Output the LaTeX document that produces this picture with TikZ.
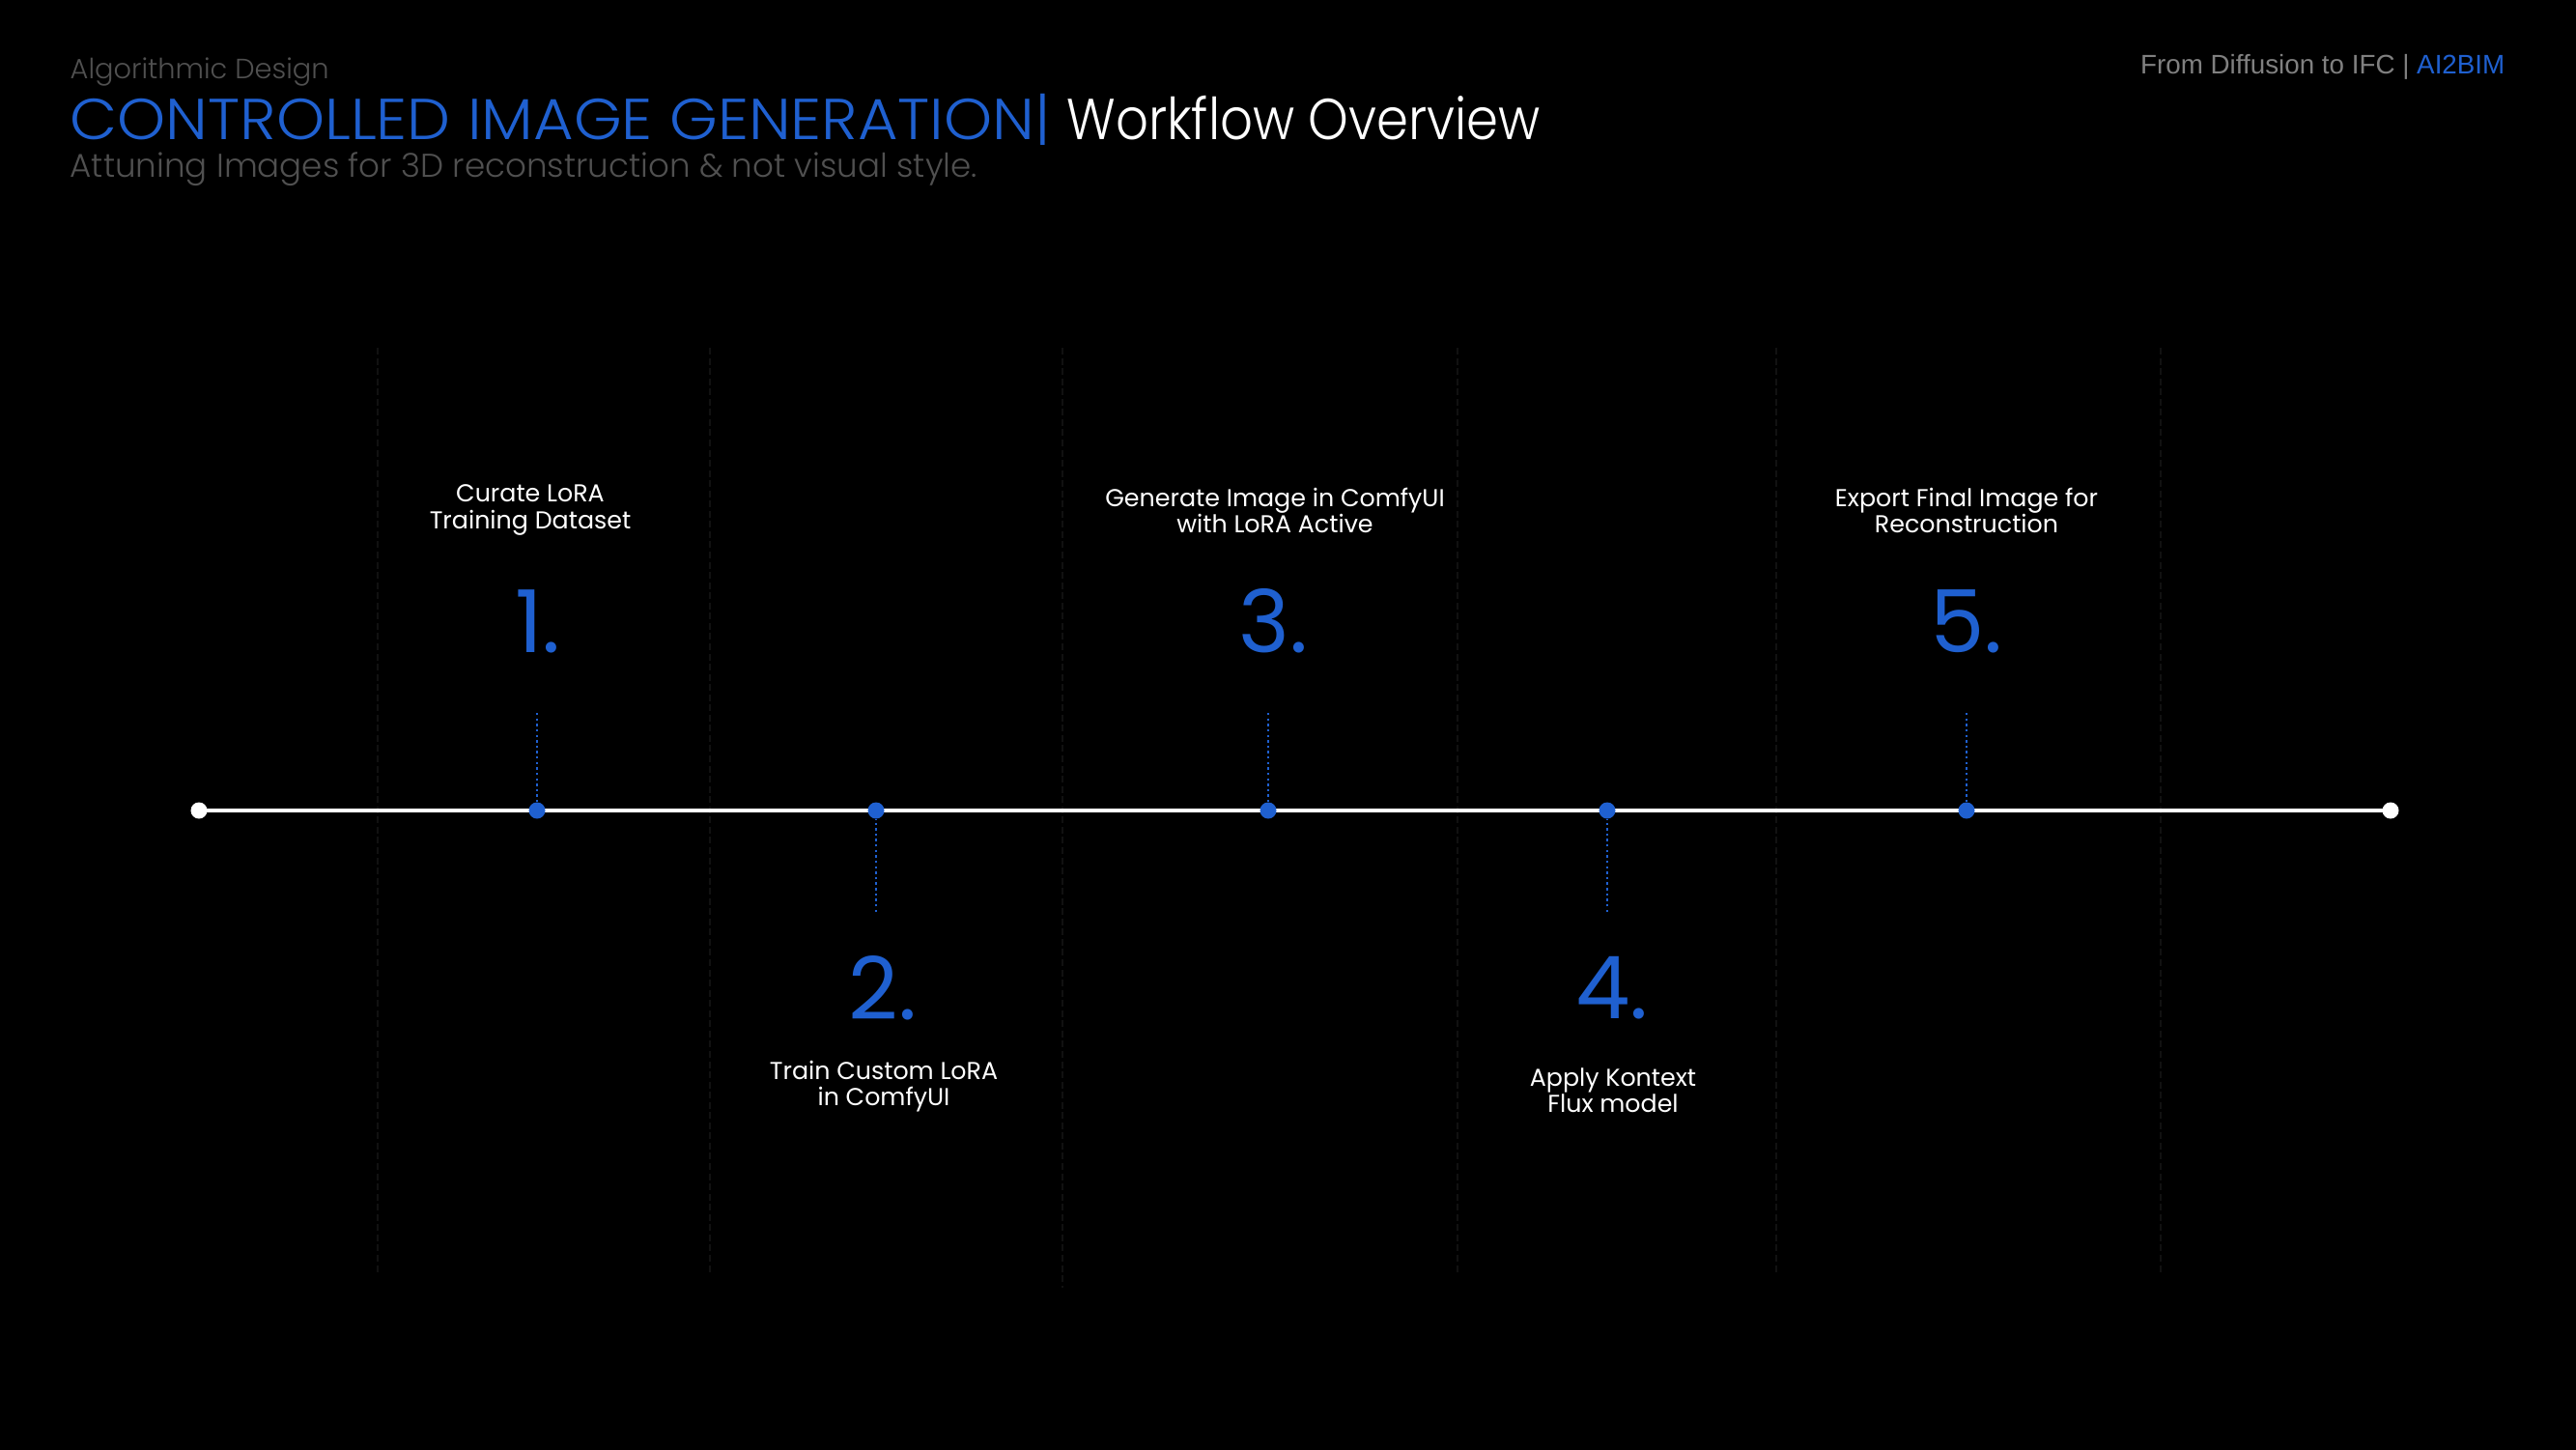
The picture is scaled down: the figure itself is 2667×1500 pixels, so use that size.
\documentclass[tikz,border=0pt]{standalone}
\usepackage{fontspec}
\setmainfont{Poppins}
\newfontfamily\poplight{Poppins Light}
\newfontfamily\arialish{Liberation Sans}
\definecolor{stepblue}{RGB}{31,96,208}
\definecolor{dimgray}{RGB}{80,80,80}
\definecolor{guidegray}{RGB}{17,17,17}
\definecolor{taggray}{RGB}{128,128,128}
\tikzset{
  guide/.style={guidegray, line width=0.5pt, dash pattern=on 2pt off 1pt},
  timeline/.style={white, line width=1.3pt},
  enddot/.style={circle, fill=white, minimum size=0.17cm, inner sep=0pt},
  stepdot/.style={circle, fill=stepblue, minimum size=0.17cm, inner sep=0pt},
  tick/.style={stepblue, line width=0.7pt, dash pattern=on 0.7pt off 0.9pt},
  stepnum/.style={text=stepblue, inner sep=0pt, font=\fontsize{25.5}{26}\selectfont},
  steplabel/.style={text=white, align=center, inner sep=0pt, font=\fontsize{7.2}{7.7}\selectfont},
}
\begin{document}
\begin{tikzpicture}[x=0.01cm, y=-0.01cm]
  \useasboundingbox (0,0) rectangle (2667,1500);
  \fill[black] (-10,-10) rectangle (2677,1510);
  % faint column guides
  \begin{scope}[guide]
    \draw (391,360) -- (391,1320);
    \draw (735,360) -- (735,1320);
    \draw (1100,360) -- (1100,1333);
    \draw (1509,360) -- (1509,1320);
    \draw (1839,360) -- (1839,1320);
    \draw (2237,360) -- (2237,1320);
  \end{scope}
  \coordinate (start) at (206,839);
  \coordinate (end) at (2475,839);
  \draw[timeline] (start) -- (end);
  \draw
    (start) node[enddot] (s){}
    (end) node[enddot] (e){}
    (556,839) node[stepdot] (d1){}
    (907,839) node[stepdot] (d2){}
    (1313,839) node[stepdot] (d3){}
    (1664,839) node[stepdot] (d4){}
    (2036,839) node[stepdot] (d5){};
  \draw
    (556,738) coordinate (t1)
    (907,944) coordinate (t2)
    (1313,738) coordinate (t3)
    (1664,944) coordinate (t4)
    (2036,738) coordinate (t5);
  \begin{scope}[tick]
    \draw (t1) to (d1);
    \draw (t2) to (d2);
    \draw (t3) to (d3);
    \draw (t4) to (d4);
    \draw (t5) to (d5);
  \end{scope}
  % step numbers
  \draw
    (557,643) node[stepnum] (n1){1.}
    (914,1023) node[stepnum] (n2){2.}
    (1318,643) node[stepnum] (n3){3.}
    (1669,1023) node[stepnum] (n4){4.}
    (2036,643) node[stepnum] (n5){5.};
  % step texts
  \draw
    (549,528) node[steplabel] (l1){Curate LoRA\\Training Dataset}
    (915,1125) node[steplabel] (l2){Train Custom LoRA\\in ComfyUI}
    (1320,528) node[steplabel] (l3){Generate Image in ComfyUI\\with LoRA Active}
    (1670,1129) node[steplabel] (l4){Apply Kontext\\Flux model}
    (2036,528) node[steplabel] (l5){Export Final Image for\\Reconstruction};
  % header
  \node[anchor=base west, inner sep=0pt, text=dimgray, font=\poplight\fontsize{8.2}{10}\selectfont] (kicker) at (72,82) {Algorithmic Design};
  \node[anchor=base west, inner sep=0pt, text=stepblue, font=\poplight\fontsize{17}{20}\selectfont] (title) at (72,145) {\scalebox{1.065}[1]{CONTROLLED IMAGE GENERATION|}};
  \node[anchor=base west, inner sep=0pt, text=white, font=\poplight\fontsize{17}{20}\selectfont] (titlerest) at (1104,145) {\scalebox{0.886}[1]{Workflow Overview}};
  \node[anchor=base west, inner sep=0pt, text=dimgray, font=\poplight\fontsize{9.7}{11}\selectfont] (subtitle) at (72,183) {Attuning Images for 3D reconstruction \& not visual style.};
  \node[anchor=base east, inner sep=0pt, text=taggray, font=\arialish\fontsize{7.9}{9}\selectfont] (brand) at (2594,77) {From Diffusion to IFC | \textcolor{stepblue}{AI2BIM}};
\end{tikzpicture}
\end{document}
